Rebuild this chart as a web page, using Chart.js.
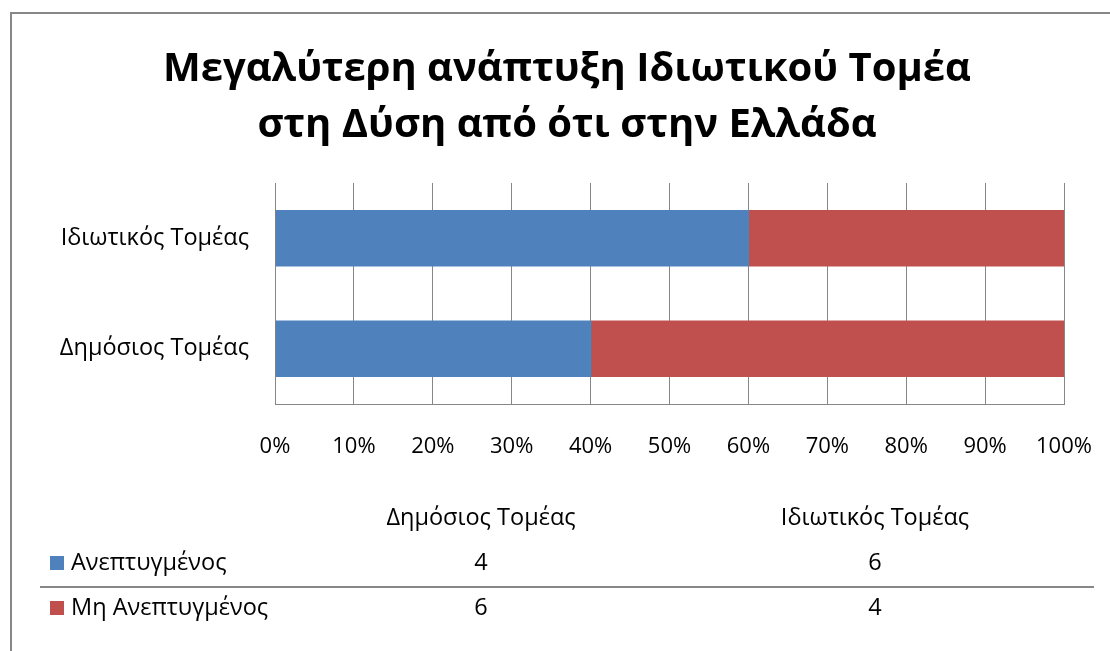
<!DOCTYPE html>
<html>
<head>
<meta charset="utf-8">
<script src="https://cdn.jsdelivr.net/npm/chart.js@4/dist/chart.umd.min.js"></script>
<style>
  html, body { margin: 0; padding: 0; background: #ffffff; }
  #wrap { width: 1110px; height: 651px; position: relative; }
</style>
</head>
<body>
<div id="wrap"><canvas id="chart" width="1110" height="651"></canvas></div>
<script>
// Categories and series values (counts per sector)
const categories = ['Δημόσιος Τομέας', 'Ιδιωτικός Τομέας'];
const seriesNames = ['Ανεπτυγμένος', 'Μη Ανεπτυγμένος'];
const developed = [4, 6];
const notDeveloped = [6, 4];
const seriesColors = ['#4F81BD', '#C0504D'];
const titleLines = ['Μεγαλύτερη ανάπτυξη Ιδιωτικού Τομέα', 'στη Δύση από ότι στην Ελλάδα'];

const FONT = '"Open Sans", "Noto Sans", sans-serif';
const TEXT_SIZE = 23.5;
const GRID = '#878787';

// 100% stacked: share of each series within its category
const totals = categories.map((_, i) => developed[i] + notDeveloped[i]);
const pct = arr => arr.map((v, i) => v / totals[i] * 100);
const seriesValues = [developed, notDeveloped];

// Frame, data table and legend keys drawn beneath the plot
const tablePlugin = {
  id: 'dataTable',
  afterDraw(chart) {
    const ctx = chart.ctx;
    const area = chart.chartArea;
    ctx.save();

    // outer frame (left and top edges)
    ctx.strokeStyle = GRID;
    ctx.lineWidth = 2;
    ctx.beginPath();
    ctx.moveTo(11, 651);
    ctx.lineTo(11, 13);
    ctx.lineTo(1110, 13);
    ctx.stroke();

    // table column centres
    const colX = [area.left + 206, area.left + 600];
    const headerY = 518;
    const rowY = [563, 608];

    ctx.fillStyle = '#000000';
    ctx.font = TEXT_SIZE + 'px ' + FONT;
    ctx.textBaseline = 'middle';
    ctx.textAlign = 'center';
    categories.forEach((c, i) => ctx.fillText(c, colX[i], headerY));

    seriesNames.forEach((name, s) => {
      const y = rowY[s];
      ctx.fillStyle = seriesColors[s];
      ctx.fillRect(50, y - 7, 14, 14);
      ctx.fillStyle = '#000000';
      ctx.textAlign = 'left';
      ctx.fillText(name, 71, y);
      ctx.textAlign = 'center';
      seriesValues[s].forEach((v, i) => ctx.fillText(String(v), colX[i], y));
    });

    // separator between the two series rows
    ctx.strokeStyle = GRID;
    ctx.lineWidth = 2;
    ctx.beginPath();
    ctx.moveTo(40, 587);
    ctx.lineTo(1094, 587);
    ctx.stroke();

    ctx.restore();
  }
};

new Chart(document.getElementById('chart'), {
  type: 'bar',
  data: {
    labels: categories,
    datasets: seriesNames.map((name, s) => ({
      label: name,
      data: pct(seriesValues[s]),
      backgroundColor: seriesColors[s],
      borderWidth: 0,
      barPercentage: 0.51,
      categoryPercentage: 1.0
    }))
  },
  options: {
    indexAxis: 'y',
    responsive: false,
    animation: false,
    devicePixelRatio: 1,
    layout: { padding: { left: 24, right: 0, top: 0, bottom: 0 } },
    plugins: {
      legend: { display: false },
      tooltip: { enabled: false },
      title: {
        display: true,
        text: titleLines,
        color: '#000000',
        font: { family: FONT, size: 40, weight: 'bold', lineHeight: 1.4 },
        padding: { top: 42, bottom: 29 }
      }
    },
    scales: {
      x: {
        stacked: true,
        min: 0,
        max: 100,
        ticks: {
          stepSize: 10,
          color: '#000000',
          font: { family: FONT, size: 22 },
          padding: 30,
          callback: v => v + '%'
        },
        grid: { color: GRID, lineWidth: 1, drawTicks: false },
        border: { display: true, color: GRID, width: 1 },
        afterFit: s => {
          s.height = 651 - 404;
          s.paddingLeft = 0;
          s.paddingRight = 0;
        }
      },
      y: {
        stacked: true,
        reverse: true,
        ticks: {
          color: '#000000',
          font: { family: FONT, size: TEXT_SIZE },
          padding: 26
        },
        grid: { display: false, drawTicks: false },
        border: { display: true, color: GRID, width: 1 },
        afterFit: s => { s.width = 275 - 24; }
      },
      yRight: {
        position: 'right',
        display: true,
        ticks: { display: false },
        grid: { display: false, drawTicks: false },
        border: { display: false },
        afterFit: s => { s.width = 1110 - 1064; }
      }
    }
  },
  plugins: [tablePlugin]
});
</script>
</body>
</html>
